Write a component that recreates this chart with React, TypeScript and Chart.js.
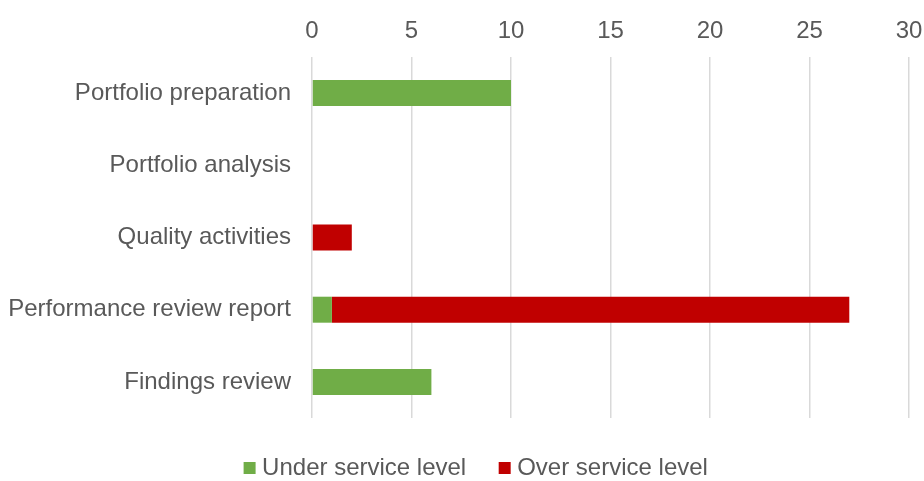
import React, { useEffect, useRef } from "react";
import { Chart, registerables } from "chart.js";

Chart.register(...registerables);

const categories = [
  "Portfolio preparation",
  "Portfolio analysis",
  "Quality activities",
  "Performance review report",
  "Findings review",
];
const underServiceLevel = [10, 0, 0, 1, 6];
const overServiceLevel = [0, 0, 2, 26, 0];
const xMin = 0;
const xMax = 30;
const xStep = 5;

const legendShift = {
  id: "legendShift",
  afterLayout(chart: any) {
    const l = chart.legend;
    if (l) {
      l.left += 24;
      l.right += 24;
    }
  },
};

export default function App() {
  const ref = useRef<HTMLCanvasElement | null>(null);

  useEffect(() => {
    document.body.style.margin = "0";
    const ctx = ref.current!;
    const font = { family: "'Liberation Sans', Arial, sans-serif", size: 24 };
    const chart = new Chart(ctx, {
      type: "bar",
      plugins: [legendShift],
      data: {
        labels: categories,
        datasets: [
          {
            label: "Under service level",
            data: underServiceLevel,
            backgroundColor: "#70AD47",
            barPercentage: 0.36,
            categoryPercentage: 1,
            pointStyle: "rect",
          },
          {
            label: "Over service level",
            data: overServiceLevel,
            backgroundColor: "#C00000",
            barPercentage: 0.36,
            categoryPercentage: 1,
            pointStyle: "rect",
          },
        ],
      },
      options: {
        indexAxis: "y",
        animation: false,
        responsive: false,
        maintainAspectRatio: false,
        layout: { padding: { top: 0, right: 15, left: 0, bottom: -9 } },
        scales: {
          x: {
            position: "top",
            stacked: true,
            min: xMin,
            max: xMax,
            ticks: { stepSize: xStep, color: "#595959", font, padding: 11 },
            grid: { color: "#D9D9D9", lineWidth: 1.5, drawTicks: false },
            border: { display: false },
            afterFit: (scale: any) => {
              scale.height = 57;
              scale.paddingRight = 0;
              scale.paddingLeft = 0;
            },
          },
          y: {
            stacked: true,
            ticks: { color: "#595959", font, padding: 13 },
            grid: { display: false },
            border: { display: false },
            afterFit: (scale: any) => {
              scale.width = 312;
            },
          },
        },
        plugins: {
          legend: {
            position: "bottom",
            labels: {
              color: "#595959",
              font,
              usePointStyle: true,
              pointStyle: "rect",
              boxWidth: 1,
              boxHeight: 12,
              padding: 38,
            },
          },
          tooltip: { enabled: false },
        },
      },
    });
    return () => chart.destroy();
  }, []);

  return (
    <div style={{ width: 924, height: 481, background: "#fff" }}>
      <canvas ref={ref} width={924} height={481} style={{ display: "block" }} />
    </div>
  );
}
